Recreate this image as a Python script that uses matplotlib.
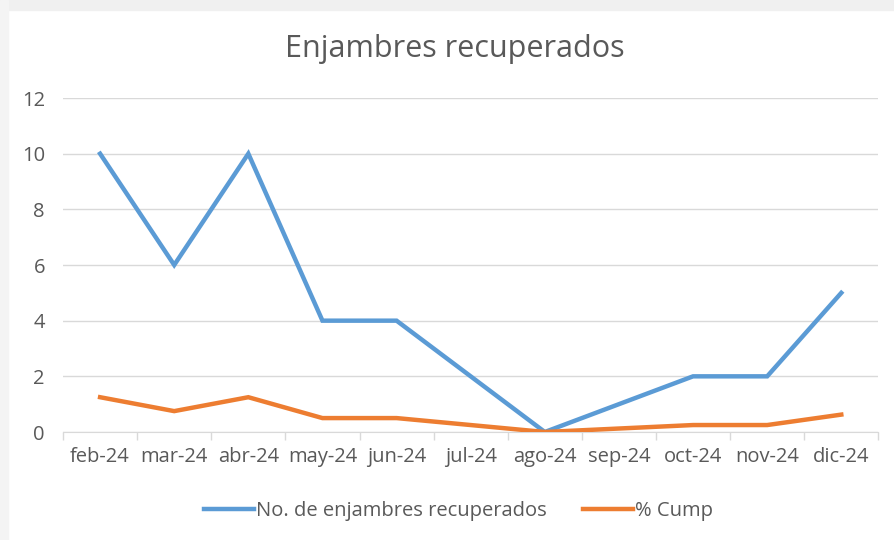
import matplotlib.pyplot as plt
from matplotlib.patches import Rectangle

meses = ['feb-24', 'mar-24', 'abr-24', 'may-24', 'jun-24', 'jul-24',
         'ago-24', 'sep-24', 'oct-24', 'nov-24', 'dic-24']
enjambres = [10, 6, 10, 4, 4, 2, 0, 1, 2, 2, 5]
cump = [1.25, 0.75, 1.25, 0.5, 0.5, 0.25, 0, 0.125, 0.25, 0.25, 0.625]

plt.rcParams['font.family'] = ['Open Sans', 'DejaVu Sans']
gris = '#595959'

fig = plt.figure(figsize=(8.94, 5.4), dpi=100)
# franjas grises del fondo
fig.patches.append(Rectangle((0, 0.982), 1, 0.018, transform=fig.transFigure,
                             color='#f0f0f0', zorder=0))
fig.patches.append(Rectangle((0, 0), 0.009, 1, transform=fig.transFigure,
                             color='#f4f4f4', zorder=0))

ax = fig.add_axes([0.0705, 0.2, 0.912, 0.6185])
x = list(range(len(meses)))
ax.plot(x, enjambres, color='#5B9BD5', lw=3.2, label='No. de enjambres recuperados',
        solid_joinstyle='miter', zorder=3)
ax.plot(x, cump, color='#ED7D31', lw=3.2, label='% Cump',
        solid_joinstyle='miter', zorder=3)

ax.set_xlim(-0.5, len(meses) - 0.5)
ax.set_ylim(0, 12)
ax.set_yticks(range(0, 13, 2))
ax.set_xticks(x)
ax.set_xticklabels(meses)
ax.set_xticks([i - 0.5 for i in range(len(meses) + 1)], minor=True)
ax.grid(axis='y', color='#d9d9d9', lw=1)
ax.set_axisbelow(True)
for s in ['top', 'right', 'left']:
    ax.spines[s].set_visible(False)
ax.spines['bottom'].set_color('#d9d9d9')
ax.tick_params(axis='x', which='major', length=0, pad=11, labelsize=14.5, labelcolor=gris)
ax.tick_params(axis='x', which='minor', length=6, color='#d9d9d9', width=1)
ax.tick_params(axis='y', length=0, pad=13, labelsize=14.5, labelcolor=gris)

fig.text(0.509, 0.91, 'Enjambres recuperados', ha='center', va='center',
         fontsize=22, color=gris)
fig.legend(loc='center', bbox_to_anchor=(0.513, 0.053), ncol=2, frameon=False,
           fontsize=14.5, labelcolor=gris, handlelength=2.5, columnspacing=1.8,
           handletextpad=0.1)

fig.savefig('out.png', dpi=100, facecolor='white')
